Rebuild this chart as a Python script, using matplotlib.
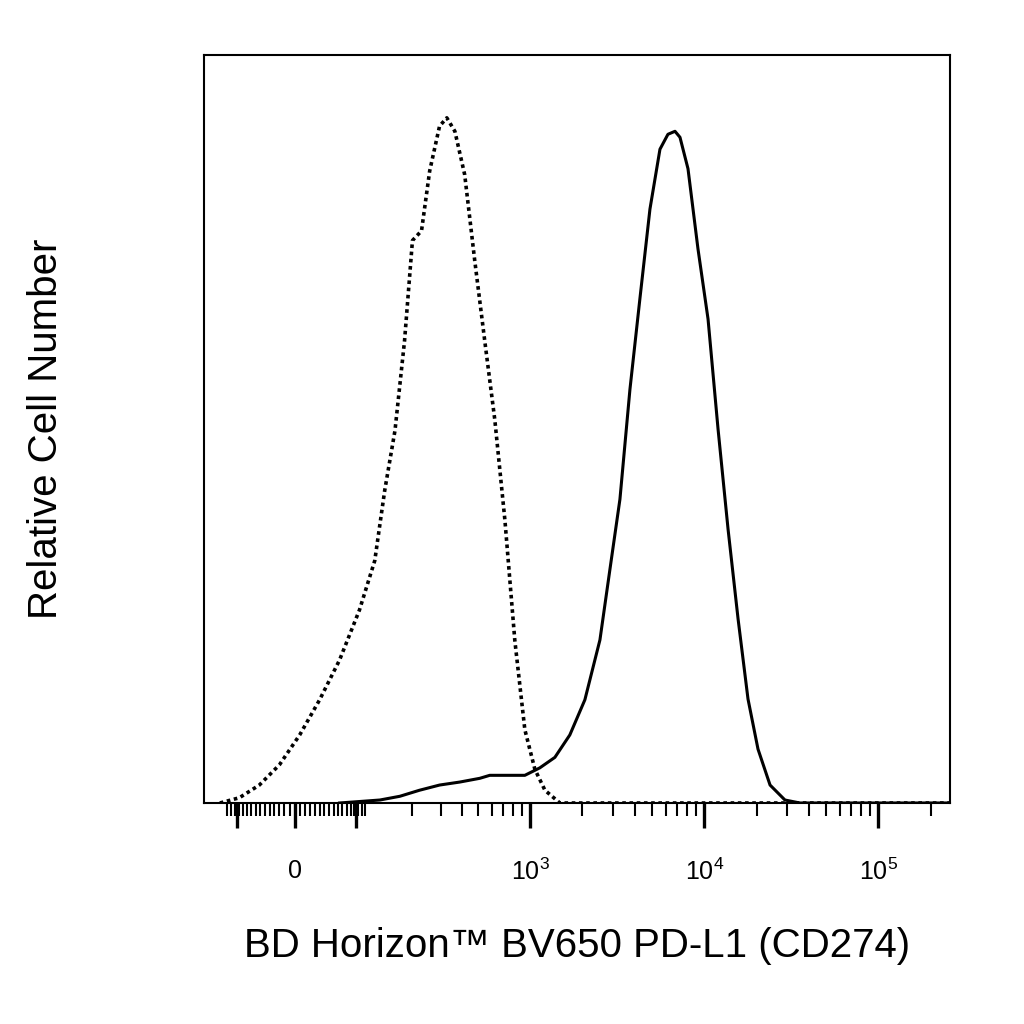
import numpy as np
import matplotlib
matplotlib.use("Agg")
import matplotlib.pyplot as plt

plt.rcParams['font.family'] = ['Liberation Sans', 'DejaVu Sans']
plt.rcParams['mathtext.fontset'] = 'custom'
plt.rcParams['mathtext.rm'] = 'Liberation Sans'

# Isotype control (dotted): intensity vs relative count (%)
iso_x = [-103, -71, -43, -18, 6, 30, 56, 86, 113, 133, 156, 180, 202, 230, 258, 296, 327,
         365, 417, 477, 546, 625, 715, 816, 932, 1065, 1217, 1484, 2520, 258000]
iso_y = [0, 0.7, 2.4, 5.1, 9.1, 13.8, 19.1, 25.8, 32.4, 41.8, 49.8, 61.8, 75.2, 76.5, 84.5,
         90.5, 91.6, 89.8, 84.0, 72.6, 61.8, 51.2, 37.8, 21.7, 9.8, 4.5, 1.7, 0, 0, 0]
# PD-L1 stained (solid)
pd_x = [56, 123, 168, 223, 296, 390, 511, 584, 932, 1137, 1388, 1692, 2065, 2520, 2875, 3283,
        3748, 4275, 4883, 5574, 6195, 6800, 7264, 8075, 9213, 10527, 12015, 13717, 15660,
        17855, 20380, 23900, 29100, 35500, 258000]
pd_y = [0, 0.4, 0.9, 1.7, 2.4, 2.8, 3.3, 3.7, 3.7, 4.7, 6.1, 9.1, 13.8, 21.8, 31.2, 40.6,
        55.3, 67.4, 79.4, 87.4, 89.4, 89.8, 89.0, 84.8, 74.1, 64.7, 50.0, 36.6, 24.6, 13.9,
        7.2, 2.4, 0.4, 0, 0]

C = 89.0
def fwd(x):
    return np.arcsinh(np.asarray(x, float) / C) / np.log(10)
def inv(f):
    return C * np.sinh(np.asarray(f, float) * np.log(10))

fig = plt.figure(figsize=(10.24, 10.24), dpi=100)
ax = fig.add_axes([204/1024, 1-803/1024, 746/1024, 748/1024])
ax.set_xscale('function', functions=(fwd, inv))
ax.plot(iso_x, iso_y, color='black', lw=2.6, linestyle=(0, (1, 1)))
ax.plot(pd_x, pd_y, color='black', lw=2.2)
ax.set_xlim(-134, 258000)
ax.set_ylim(0, 100)
ax.set_yticks([])

majors = [-75, 0, 80, 1e3, 1e4, 1e5]
labels = ['', '0', '', r'$10^3$', r'$10^4$', r'$10^5$']
ax.set_xticks(majors)
ax.set_xticklabels(labels, fontsize=18)
minors = list(range(-90, 0, 6)) + list(range(6, 100, 6)) + list(range(200, 1000, 100)) + \
    list(range(2000, 10000, 1000)) + list(range(20000, 100000, 10000)) + [200000]
ax.set_xticks(minors, minor=True)
ax.tick_params(axis='x', which='major', direction='out', length=18, width=2.4, pad=22)
ax.tick_params(axis='x', which='minor', direction='out', length=9, width=1.5)
for s in ax.spines.values():
    s.set_linewidth(1.5)
ax.set_xlabel('BD Horizon™ BV650 PD-L1 (CD274)', fontsize=29, labelpad=30)
ax.set_ylabel('Relative Cell Number', fontsize=29, labelpad=100)
fig.savefig('out.png', dpi=100)
